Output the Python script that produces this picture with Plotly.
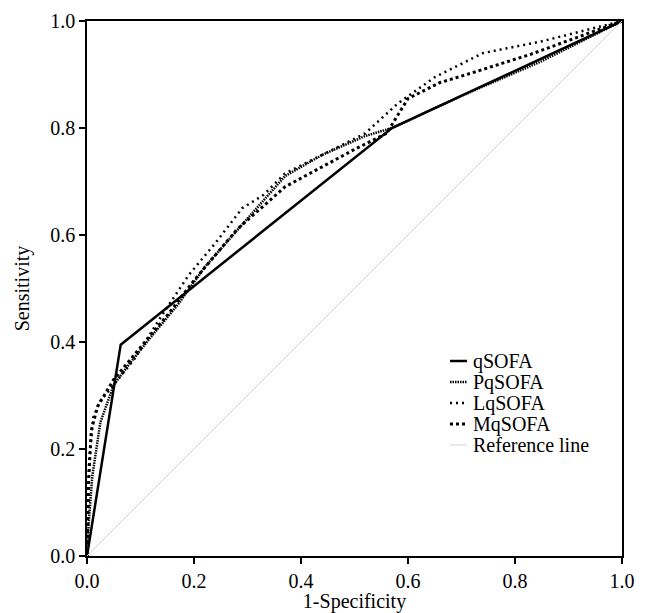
import plotly.graph_objects as go

# ROC data (1-Specificity, Sensitivity)
q_x = [0, 0.063, 0.57, 1]
q_y = [0, 0.395, 0.80, 1]

pq_x = [0, 0.003, 0.01, 0.025, 0.05, 0.08, 0.12, 0.17, 0.22, 0.29, 0.37, 0.44, 0.52, 0.57, 0.70, 0.85, 1]
pq_y = [0, 0.06, 0.15, 0.25, 0.32, 0.36, 0.41, 0.47, 0.54, 0.62, 0.71, 0.75, 0.785, 0.80, 0.86, 0.925, 1]

lq_x = [0, 0.004, 0.012, 0.025, 0.05, 0.09, 0.14, 0.19, 0.24, 0.29, 0.33, 0.37, 0.45, 0.52, 0.58, 0.65, 0.74, 0.85, 1]
lq_y = [0, 0.18, 0.26, 0.29, 0.32, 0.37, 0.45, 0.525, 0.585, 0.65, 0.675, 0.715, 0.755, 0.79, 0.845, 0.895, 0.94, 0.962, 1]

mq_x = [0, 0.003, 0.008, 0.02, 0.05, 0.1, 0.15, 0.2, 0.28, 0.37, 0.44, 0.5, 0.56, 0.6, 0.66, 0.71, 0.83, 1]
mq_y = [0, 0.14, 0.235, 0.28, 0.33, 0.39, 0.45, 0.515, 0.61, 0.69, 0.728, 0.76, 0.79, 0.855, 0.885, 0.90, 0.938, 1]

ref_x = [0, 1]
ref_y = [0, 1]

series_names = ["qSOFA", "PqSOFA", "LqSOFA", "MqSOFA", "Reference line"]

tick_vals = [0, 0.2, 0.4, 0.6, 0.8, 1.0]
tick_text = ["0.0", "0.2", "0.4", "0.6", "0.8", "1.0"]

FONT = "Liberation Serif, Times New Roman, serif"

styles = [
    dict(color="black", width=2.5),
    dict(color="black", width=2.5, dash="1.5px,1px"),
    dict(color="black", width=2.5, dash="2px,4px"),
    dict(color="black", width=3, dash="3px,3px"),
    dict(color="#d3d3d3", width=1),
]
data = [(q_x, q_y), (pq_x, pq_y), (lq_x, lq_y), (mq_x, mq_y), (ref_x, ref_y)]

fig = go.Figure()
for (xs, ys), name, st in zip(data, series_names, styles):
    fig.add_trace(go.Scatter(x=xs, y=ys, mode="lines", name=name, line=st,
                             showlegend=False))

# manual legend (compact row spacing like the original)
plot_l, plot_r, plot_t, plot_b = 87, 622, 21, 556
pw, ph = plot_r - plot_l, plot_b - plot_t
leg_x0, leg_x1, leg_tx = 450, 467, 471
row_y = [361, 382, 403, 424, 445]
for name, st, py in zip(series_names, styles, row_y):
    yp = (plot_b - py) / ph
    fig.add_shape(type="line", xref="paper", yref="paper",
                  x0=(leg_x0 - plot_l) / pw, x1=(leg_x1 - plot_l) / pw,
                  y0=yp, y1=yp, line=st)
    fig.add_annotation(xref="paper", yref="paper", x=(leg_tx - plot_l) / pw, y=yp,
                       text=name, showarrow=False, xanchor="left", yanchor="middle",
                       font=dict(family=FONT, size=20, color="black"))

axis_common = dict(
    range=[0, 1], tickvals=tick_vals, ticktext=tick_text,
    showline=True, linecolor="black", linewidth=1.5, mirror=True,
    ticks="outside", ticklen=6, tickwidth=1.5, tickcolor="black",
    showgrid=False, zeroline=False, automargin=False,
    tickfont=dict(family=FONT, size=20, color="black"),
)

W, H = 638, 605
fig.update_layout(
    width=W, height=H,
    margin=dict(l=plot_l - 8, r=8 + W - plot_r, t=plot_t - 8, b=8 + H - plot_b),
    plot_bgcolor="white", paper_bgcolor="white",
    font=dict(family=FONT, color="black"),
    xaxis=dict(**axis_common, title=dict(text="1-Specificity", font=dict(family=FONT, size=20))),
    yaxis=dict(**axis_common, title=dict(text="Sensitivity", font=dict(family=FONT, size=20))),
    showlegend=False,
)

fig.write_html("out.html")
